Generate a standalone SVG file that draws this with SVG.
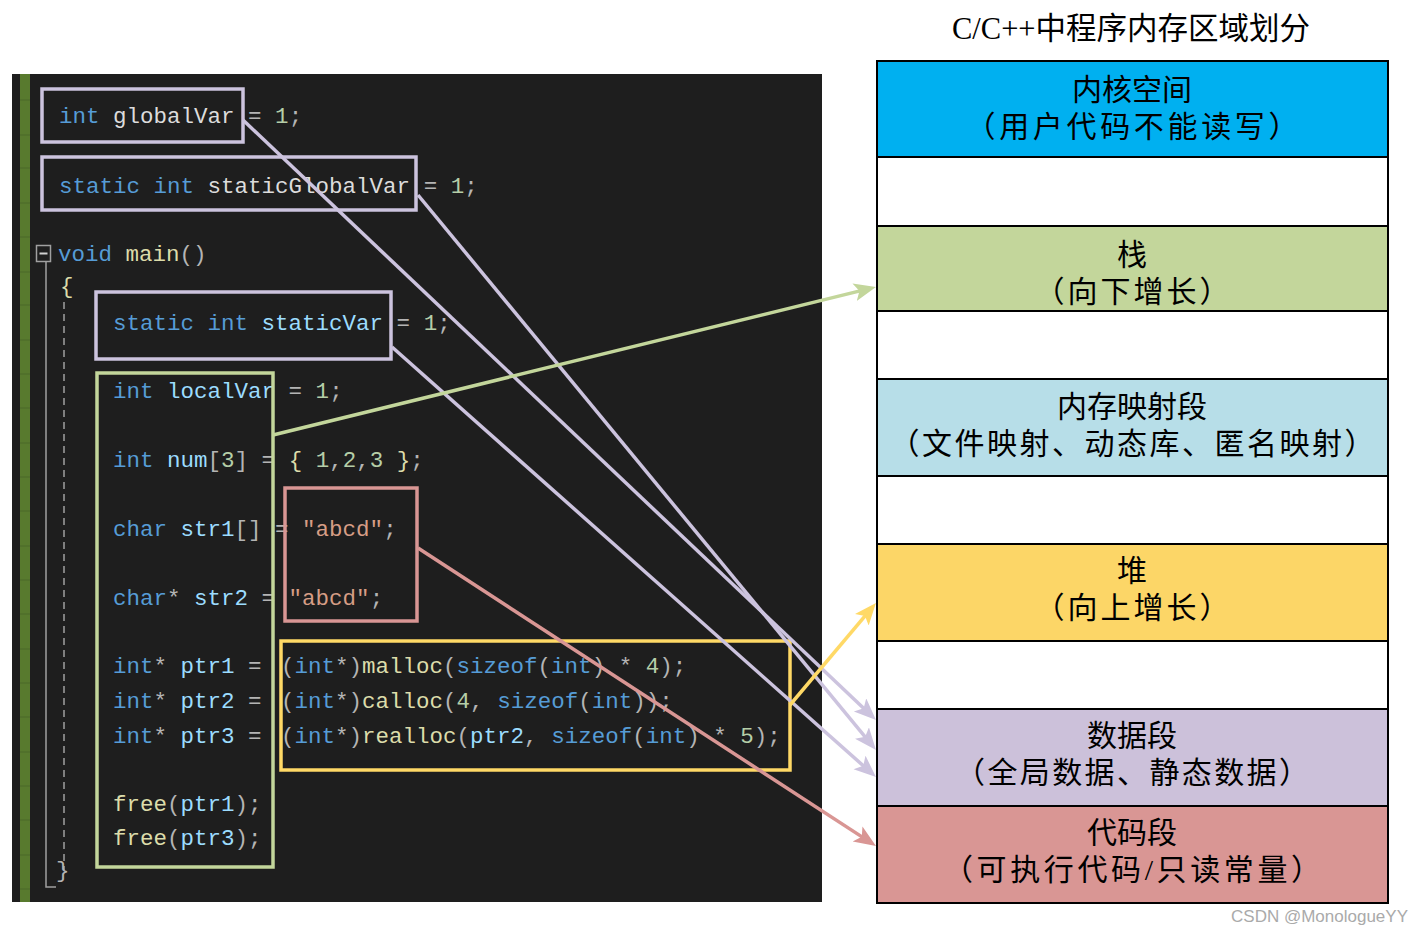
<svg xmlns="http://www.w3.org/2000/svg" width="1424" height="935" viewBox="0 0 1424 935">
<style>
.code{font-family:"Liberation Mono","DejaVu Sans Mono",monospace;font-size:22.5px;white-space:pre;fill:#DCDCDC}
.kw{fill:#569CD6}.id{fill:#9CDCFE}.fn{fill:#DCDCAA}.nm{fill:#B5CEA8}.st{fill:#D69D85}.pu{fill:#B4B4B4}.gl{fill:#DCDCDC}
.box{fill:none;stroke-width:3.5}
.seg{stroke:#000;stroke-width:2}
.lbl{font-family:"Liberation Serif","Noto Sans CJK SC",serif;font-size:30px;fill:#000;text-anchor:middle}
.con{fill:none;stroke-width:3.5}
</style>
<defs>
<marker id="aL" markerUnits="userSpaceOnUse" markerWidth="24" markerHeight="20" refX="14" refY="9" orient="auto"><path d="M0,0 L22,9 L0,18 L5,9 Z" fill="#CCC3DE"/></marker>
<marker id="aG" markerUnits="userSpaceOnUse" markerWidth="24" markerHeight="20" refX="14" refY="9" orient="auto"><path d="M0,0 L22,9 L0,18 L5,9 Z" fill="#C3D69B"/></marker>
<marker id="aY" markerUnits="userSpaceOnUse" markerWidth="24" markerHeight="20" refX="14" refY="9" orient="auto"><path d="M0,0 L22,9 L0,18 L5,9 Z" fill="#FFD966"/></marker>
<marker id="aR" markerUnits="userSpaceOnUse" markerWidth="24" markerHeight="20" refX="14" refY="9" orient="auto"><path d="M0,0 L22,9 L0,18 L5,9 Z" fill="#D99694"/></marker>
</defs>
<rect width="1424" height="935" fill="#FFFFFF"/>

<!-- code panel -->
<g id="code-panel">
<rect x="12" y="74" width="810" height="828" fill="#1E1E1E"/>
<rect x="20" y="74" width="10" height="828" fill="#587A2E"/>
<g stroke="#4A6828" stroke-width="1">
<line x1="20" y1="100" x2="30" y2="100"/><line x1="20" y1="135" x2="30" y2="135"/><line x1="20" y1="168" x2="30" y2="168"/><line x1="20" y1="203" x2="30" y2="203"/><line x1="20" y1="237" x2="30" y2="237"/><line x1="20" y1="272" x2="30" y2="272"/><line x1="20" y1="305" x2="30" y2="305"/><line x1="20" y1="340" x2="30" y2="340"/><line x1="20" y1="374" x2="30" y2="374"/><line x1="20" y1="408" x2="30" y2="408"/><line x1="20" y1="443" x2="30" y2="443"/><line x1="20" y1="477" x2="30" y2="477"/><line x1="20" y1="511" x2="30" y2="511"/><line x1="20" y1="546" x2="30" y2="546"/><line x1="20" y1="580" x2="30" y2="580"/><line x1="20" y1="614" x2="30" y2="614"/><line x1="20" y1="649" x2="30" y2="649"/><line x1="20" y1="683" x2="30" y2="683"/><line x1="20" y1="717" x2="30" y2="717"/><line x1="20" y1="752" x2="30" y2="752"/><line x1="20" y1="786" x2="30" y2="786"/><line x1="20" y1="820" x2="30" y2="820"/><line x1="20" y1="855" x2="30" y2="855"/><line x1="20" y1="889" x2="30" y2="889"/>
</g>
<rect x="36.5" y="245.5" width="14" height="16" fill="none" stroke="#A0A0A0" stroke-width="1.5"/>
<line x1="39.5" y1="253.5" x2="47.5" y2="253.5" stroke="#D0D0D0" stroke-width="2"/>
<polyline points="46,262 46,887 56,887" fill="none" stroke="#A0A0A0" stroke-width="1.5"/>
<line x1="64" y1="302" x2="64" y2="870" stroke="#A0A0A0" stroke-width="1.5" stroke-dasharray="7,5"/>

<text class="code" x="59" y="123"><tspan class="kw">int</tspan> <tspan class="gl">globalVar</tspan> <tspan class="pu">=</tspan> <tspan class="nm">1</tspan><tspan class="pu">;</tspan></text>
<text class="code" x="59" y="193"><tspan class="kw">static</tspan> <tspan class="kw">int</tspan> <tspan class="gl">staticGlobalVar</tspan> <tspan class="pu">=</tspan> <tspan class="nm">1</tspan><tspan class="pu">;</tspan></text>
<text class="code" x="58" y="261"><tspan class="kw">void</tspan> <tspan class="fn">main</tspan><tspan class="pu">()</tspan></text>
<text class="code" x="60" y="293"><tspan class="fn">{</tspan></text>
<text class="code" x="113" y="330"><tspan class="kw">static</tspan> <tspan class="kw">int</tspan> <tspan class="id">staticVar</tspan> <tspan class="pu">=</tspan> <tspan class="nm">1</tspan><tspan class="pu">;</tspan></text>
<text class="code" x="113" y="398"><tspan class="kw">int</tspan> <tspan class="id">localVar</tspan> <tspan class="pu">=</tspan> <tspan class="nm">1</tspan><tspan class="pu">;</tspan></text>
<text class="code" x="113" y="467"><tspan class="kw">int</tspan> <tspan class="id">num</tspan><tspan class="pu">[</tspan><tspan class="nm">3</tspan><tspan class="pu">]</tspan> <tspan class="pu">=</tspan> <tspan class="fn">{</tspan> <tspan class="nm">1</tspan><tspan class="pu">,</tspan><tspan class="nm">2</tspan><tspan class="pu">,</tspan><tspan class="nm">3</tspan> <tspan class="fn">}</tspan><tspan class="pu">;</tspan></text>
<text class="code" x="113" y="536"><tspan class="kw">char</tspan> <tspan class="id">str1</tspan><tspan class="pu">[]</tspan> <tspan class="pu">=</tspan> <tspan class="st">"abcd"</tspan><tspan class="pu">;</tspan></text>
<text class="code" x="113" y="605"><tspan class="kw">char</tspan><tspan class="pu">*</tspan> <tspan class="id">str2</tspan> <tspan class="pu">=</tspan> <tspan class="st">"abcd"</tspan><tspan class="pu">;</tspan></text>
<text class="code" x="113" y="673"><tspan class="kw">int</tspan><tspan class="pu">*</tspan> <tspan class="id">ptr1</tspan> <tspan class="pu">=</tspan></text>
<text class="code" x="113" y="708"><tspan class="kw">int</tspan><tspan class="pu">*</tspan> <tspan class="id">ptr2</tspan> <tspan class="pu">=</tspan></text>
<text class="code" x="113" y="743"><tspan class="kw">int</tspan><tspan class="pu">*</tspan> <tspan class="id">ptr3</tspan> <tspan class="pu">=</tspan></text>
<text class="code" x="281" y="673"><tspan class="pu">(</tspan><tspan class="kw">int</tspan><tspan class="pu">*)</tspan><tspan class="fn">malloc</tspan><tspan class="pu">(</tspan><tspan class="kw">sizeof</tspan><tspan class="pu">(</tspan><tspan class="kw">int</tspan><tspan class="pu">)</tspan> <tspan class="pu">*</tspan> <tspan class="nm">4</tspan><tspan class="pu">);</tspan></text>
<text class="code" x="281" y="708"><tspan class="pu">(</tspan><tspan class="kw">int</tspan><tspan class="pu">*)</tspan><tspan class="fn">calloc</tspan><tspan class="pu">(</tspan><tspan class="nm">4</tspan><tspan class="pu">,</tspan> <tspan class="kw">sizeof</tspan><tspan class="pu">(</tspan><tspan class="kw">int</tspan><tspan class="pu">));</tspan></text>
<text class="code" x="281" y="743"><tspan class="pu">(</tspan><tspan class="kw">int</tspan><tspan class="pu">*)</tspan><tspan class="fn">realloc</tspan><tspan class="pu">(</tspan><tspan class="id">ptr2</tspan><tspan class="pu">,</tspan> <tspan class="kw">sizeof</tspan><tspan class="pu">(</tspan><tspan class="kw">int</tspan><tspan class="pu">)</tspan> <tspan class="pu">*</tspan> <tspan class="nm">5</tspan><tspan class="pu">);</tspan></text>
<text class="code" x="113" y="811"><tspan class="fn">free</tspan><tspan class="pu">(</tspan><tspan class="id">ptr1</tspan><tspan class="pu">);</tspan></text>
<text class="code" x="113" y="845"><tspan class="fn">free</tspan><tspan class="pu">(</tspan><tspan class="id">ptr3</tspan><tspan class="pu">);</tspan></text>
<text class="code" x="56" y="877"><tspan class="pu">}</tspan></text>
</g>

<!-- highlight boxes -->
<g id="box-globalVar"><rect class="box" x="42" y="89" width="201" height="53" stroke="#CCC3DE"/></g>
<g id="box-staticGlobalVar"><rect class="box" x="42" y="157" width="374" height="53" stroke="#CCC3DE"/></g>
<g id="box-staticVar"><rect class="box" x="96" y="292" width="295" height="67" stroke="#CCC3DE"/></g>
<g id="box-local"><rect class="box" x="97" y="373" width="176" height="494" stroke="#C3D69B"/></g>
<g id="box-const"><rect class="box" x="285" y="488" width="132" height="133" stroke="#D99694"/></g>
<g id="box-heap"><rect class="box" x="281" y="641" width="509" height="129" stroke="#FFD966"/></g>

<!-- memory layout -->
<g id="title"><text x="1131" y="39" font-family="Liberation Serif,Noto Sans CJK SC,serif" font-size="30.5" text-anchor="middle" fill="#000">C/C++中程序内存区域划分</text></g>
<g id="seg-kernel"><rect class="seg" x="877" y="61" width="511" height="96" fill="#00B0F0"/><text class="lbl" x="1132" y="100">内核空间</text><text class="lbl" x="1132" y="137" textLength="333" lengthAdjust="spacing">（用户代码不能读写）</text></g>
<g id="gap1"><rect class="seg" x="877" y="157" width="511" height="69" fill="#FFFFFF"/></g>
<g id="seg-stack"><rect class="seg" x="877" y="226" width="511" height="85" fill="#C3D69B"/><text class="lbl" x="1132" y="265">栈</text><text class="lbl" x="1132" y="302" textLength="195" lengthAdjust="spacing">（向下增长）</text></g>
<g id="gap2"><rect class="seg" x="877" y="311" width="511" height="68" fill="#FFFFFF"/></g>
<g id="seg-mmap"><rect class="seg" x="877" y="379" width="511" height="97" fill="#B7DEE8"/><text class="lbl" x="1132" y="417">内存映射段</text><text class="lbl" x="1132" y="454" textLength="485" lengthAdjust="spacing">（文件映射、动态库、匿名映射）</text></g>
<g id="gap3"><rect class="seg" x="877" y="476" width="511" height="68" fill="#FFFFFF"/></g>
<g id="seg-heap"><rect class="seg" x="877" y="544" width="511" height="97" fill="#FCD667"/><text class="lbl" x="1132" y="581">堆</text><text class="lbl" x="1132" y="618" textLength="195" lengthAdjust="spacing">（向上增长）</text></g>
<g id="gap4"><rect class="seg" x="877" y="641" width="511" height="68" fill="#FFFFFF"/></g>
<g id="seg-data"><rect class="seg" x="877" y="709" width="511" height="97" fill="#CCC1DA"/><text class="lbl" x="1132" y="746">数据段</text><text class="lbl" x="1132" y="783" textLength="354" lengthAdjust="spacing">（全局数据、静态数据）</text></g>
<g id="seg-code"><rect class="seg" x="877" y="806" width="511" height="97" fill="#D99694"/><text class="lbl" x="1132" y="843">代码段</text><text class="lbl" x="1132" y="880" textLength="378" lengthAdjust="spacing">（可执行代码/只读常量）</text></g>

<!-- connectors -->
<g id="connectors">
<line class="con" x1="243" y1="120" x2="870.2" y2="714.5" stroke="#CCC3DE" marker-end="url(#aL)"/>
<line class="con" x1="418" y1="195" x2="870.9" y2="743.8" stroke="#CCC3DE" marker-end="url(#aL)"/>
<line class="con" x1="392" y1="347" x2="870.0" y2="771.7" stroke="#CCC3DE" marker-end="url(#aL)"/>
<line class="con" x1="273" y1="435" x2="868.2" y2="288.9" stroke="#C3D69B" marker-end="url(#aG)"/>
<line class="con" x1="790" y1="705" x2="870.8" y2="609.1" stroke="#FFD966" marker-end="url(#aY)"/>
<line class="con" x1="418" y1="548" x2="869.3" y2="841.6" stroke="#D99694" marker-end="url(#aR)"/>
</g>

<text x="1408" y="922" font-family="Liberation Sans,Arial,sans-serif" font-size="17" fill="#AAAAAA" text-anchor="end">CSDN @MonologueYY</text>
</svg>
